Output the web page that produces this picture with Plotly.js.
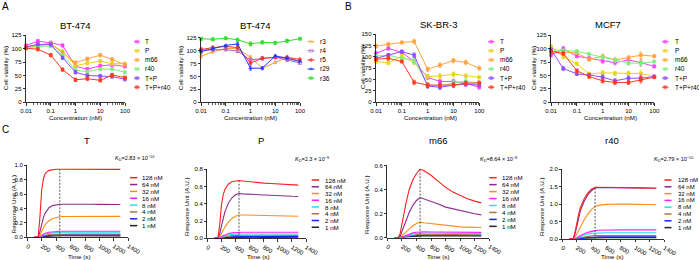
<!DOCTYPE html>
<html>
<head>
<meta charset="utf-8">
<script src="https://cdn.plot.ly/plotly-3.0.1.min.js"></script>
<style>
  html, body { margin: 0; padding: 0; background: #fff; }
  #chart { width: 699px; height: 260px; }
</style>
</head>
<body>
<div id="chart"></div>
<script>
const W = 699, H = 260;
const FONT = 'Arial, "Liberation Sans", sans-serif';

// ---------- cell viability data ----------
const conc = [0.01, 0.03, 0.1, 0.3, 1, 3, 10, 30, 100];
const comboNames = ['T', 'P', 'm66', 'r40', 'T+P', 'T+P+r40'];
const singleNames = ['r3', 'r4', 'r5', 'r29', 'r36'];

// BT-474, antibodies and combinations
const bt474_T      = [106, 114, 111, 106, 67, 62, 68, 70, 67];
const bt474_P      = [103, 105, 108, 95, 68, 73, 77, 72, 72];
const bt474_m66    = [104, 107, 110, 92, 74, 81, 88, 80, 70];
const bt474_r40    = [102, 103, 105, 88, 60, 57, 62, 62, 56];
const bt474_TP     = [103, 108, 108, 83, 56, 50, 49, 48, 43];
const bt474_TPr40  = [101, 99, 88, 61, 42, 44, 41, 51, 46];
const bt474_err    = [3, 3, 3, 3, 3, 3, 3, 3, 3];

// BT-474, single clones
const bt474_r3  = [89, 98, 104, 104, 87, 66, 77, 87, 79];
const bt474_r4  = [101, 102, 102, 99, 82, 85, 87, 82, 76];
const bt474_r5  = [102, 106, 108, 106, 76, 85, 87, 87, 83];
const bt474_r29 = [98, 104, 110, 113, 66, 66, 90, 85, 79];
const bt474_r36 = [123, 122, 124, 121, 113, 116, 115, 119, 123];
const single_err = [4, 3, 2, 3, 4, 3, 2, 3, 3];

// SK-BR-3
const skbr3_T     = [108, 119, 110, 90, 55, 46, 46, 42, 33];
const skbr3_P     = [90, 87, 102, 88, 57, 58, 62, 58, 55];
const skbr3_m66   = [124, 128, 132, 134, 73, 82, 92, 88, 75];
const skbr3_r40   = [102, 104, 97, 93, 38, 36, 43, 46, 42];
const skbr3_TP    = [97, 104, 112, 104, 36, 33, 38, 40, 38];
const skbr3_TPr40 = [95, 97, 90, 44, 38, 38, 38, 42, 43];
const skbr3_err   = [4, 4, 3, 5, 5, 5, 5, 5, 5];

// MCF7
const mcf7_T     = [88, 100, 86, 82, 77, 74, 79, 74, 67];
const mcf7_P     = [104, 85, 72, 53, 55, 54, 54, 54, 48];
const mcf7_m66   = [95, 93, 92, 80, 86, 79, 83, 88, 86];
const mcf7_r40   = [98, 96, 95, 90, 84, 78, 73, 73, 76];
const mcf7_TP    = [98, 63, 53, 51, 47, 40, 45, 45, 48];
const mcf7_TPr40 = [95, 91, 59, 48, 40, 37, 37, 42, 47];
const mcf7_err   = [4, 4, 3, 3, 4, 4, 4, 6, 3];

// ---------- binding kinetics (response vs time) ----------
const timeS = [100, 150, 175, 200, 225, 250, 300, 350, 400, 450, 500, 600, 700, 800, 900, 1000, 1100, 1200, 1290];
const concLabels = ['128 nM', '64 nM', '32 nM', '16 nM', '8 nM', '4 nM', '2 nM', '1 nM'];

const kin_T = [
  [0, 0, 0.28, 0.66, 0.82, 0.89, 0.93, 0.94, 0.945, 0.945, 0.945, 0.95, 0.95, 0.947, 0.946, 0.946, 0.945, 0.945, 0.944],
  [0, 0, 0.08, 0.2, 0.28, 0.34, 0.41, 0.44, 0.455, 0.46, 0.46, 0.462, 0.46, 0.458, 0.458, 0.457, 0.456, 0.455, 0.455],
  [0, 0, 0.03, 0.09, 0.14, 0.18, 0.23, 0.26, 0.275, 0.285, 0.288, 0.29, 0.29, 0.289, 0.29, 0.29, 0.291, 0.292, 0.29],
  [0, 0, 0.01, 0.03, 0.045, 0.055, 0.07, 0.078, 0.082, 0.085, 0.085, 0.086, 0.085, 0.084, 0.085, 0.085, 0.086, 0.085, 0.084],
  [0, 0, 0.008, 0.022, 0.035, 0.045, 0.058, 0.065, 0.068, 0.07, 0.07, 0.071, 0.07, 0.07, 0.071, 0.07, 0.07, 0.071, 0.07],
  [0, 0, 0.005, 0.014, 0.022, 0.03, 0.038, 0.042, 0.044, 0.045, 0.045, 0.046, 0.045, 0.045, 0.044, 0.045, 0.045, 0.044, 0.045],
  [0, 0, 0.003, 0.01, 0.016, 0.021, 0.027, 0.031, 0.033, 0.034, 0.034, 0.035, 0.034, 0.034, 0.035, 0.034, 0.034, 0.034, 0.033],
  [0, 0, 0.002, 0.006, 0.01, 0.013, 0.017, 0.019, 0.02, 0.021, 0.021, 0.021, 0.02, 0.021, 0.02, 0.021, 0.02, 0.021, 0.02]
];
const kin_P = [
  [0, 0, 0.15, 0.38, 0.5, 0.57, 0.63, 0.655, 0.665, 0.67, 0.665, 0.655, 0.648, 0.64, 0.635, 0.632, 0.628, 0.622, 0.617],
  [0, 0, 0.05, 0.15, 0.24, 0.31, 0.41, 0.47, 0.505, 0.52, 0.515, 0.51, 0.505, 0.5, 0.497, 0.494, 0.49, 0.487, 0.485],
  [0, 0, 0.02, 0.06, 0.1, 0.13, 0.19, 0.23, 0.255, 0.27, 0.27, 0.268, 0.265, 0.263, 0.262, 0.26, 0.258, 0.257, 0.255],
  [0, 0, 0.005, 0.02, 0.03, 0.04, 0.055, 0.063, 0.067, 0.07, 0.07, 0.07, 0.069, 0.068, 0.069, 0.068, 0.07, 0.071, 0.07],
  [0, 0, 0.004, 0.014, 0.022, 0.029, 0.039, 0.045, 0.048, 0.05, 0.05, 0.05, 0.049, 0.049, 0.05, 0.049, 0.05, 0.05, 0.05],
  [0, 0, 0.003, 0.01, 0.016, 0.021, 0.027, 0.031, 0.034, 0.035, 0.035, 0.035, 0.034, 0.034, 0.035, 0.034, 0.034, 0.035, 0.034],
  [0, 0, 0.002, 0.006, 0.01, 0.013, 0.016, 0.018, 0.019, 0.02, 0.02, 0.02, 0.019, 0.02, 0.019, 0.02, 0.02, 0.019, 0.02],
  [0, 0, 0.001, 0.004, 0.006, 0.008, 0.01, 0.011, 0.012, 0.012, 0.012, 0.012, 0.012, 0.011, 0.012, 0.012, 0.011, 0.012, 0.012]
];
const kin_m66 = [
  [0, 0, 0.03, 0.12, 0.2, 0.27, 0.4, 0.48, 0.535, 0.57, 0.56, 0.52, 0.47, 0.42, 0.38, 0.35, 0.325, 0.305, 0.29],
  [0, 0, 0.01, 0.05, 0.09, 0.13, 0.21, 0.27, 0.31, 0.335, 0.325, 0.3, 0.28, 0.255, 0.24, 0.225, 0.21, 0.2, 0.19],
  [0, 0, 0, 0.015, 0.03, 0.045, 0.075, 0.1, 0.118, 0.13, 0.125, 0.118, 0.11, 0.1, 0.095, 0.09, 0.088, 0.086, 0.085],
  [0, 0, 0, 0.006, 0.012, 0.018, 0.03, 0.04, 0.046, 0.05, 0.049, 0.048, 0.047, 0.046, 0.045, 0.045, 0.044, 0.045, 0.044],
  [0, 0, 0, 0.005, 0.01, 0.015, 0.024, 0.031, 0.036, 0.04, 0.039, 0.038, 0.037, 0.036, 0.036, 0.035, 0.035, 0.035, 0.034],
  [0, 0, 0, 0.004, 0.008, 0.011, 0.018, 0.023, 0.027, 0.03, 0.029, 0.028, 0.028, 0.027, 0.026, 0.026, 0.025, 0.025, 0.025],
  [0, 0, 0, 0.003, 0.005, 0.008, 0.012, 0.016, 0.018, 0.02, 0.02, 0.02, 0.019, 0.019, 0.019, 0.02, 0.019, 0.02, 0.02],
  [0, 0, 0, 0.002, 0.004, 0.006, 0.009, 0.012, 0.014, 0.015, 0.015, 0.015, 0.014, 0.015, 0.014, 0.015, 0.015, 0.014, 0.015]
];
const kin_r40 = [
  [0, 0, 0.2, 0.48, 0.72, 0.9, 1.15, 1.31, 1.42, 1.48, 1.48, 1.475, 1.47, 1.465, 1.465, 1.46, 1.46, 1.455, 1.45],
  [0, 0, 0.15, 0.4, 0.63, 0.82, 1.08, 1.26, 1.38, 1.46, 1.47, 1.47, 1.465, 1.46, 1.46, 1.455, 1.455, 1.45, 1.45],
  [0, 0, 0.05, 0.15, 0.26, 0.36, 0.55, 0.71, 0.84, 0.93, 0.96, 0.99, 1.0, 1.0, 0.995, 0.99, 0.99, 0.985, 0.98],
  [0, 0, 0.01, 0.04, 0.07, 0.1, 0.15, 0.19, 0.22, 0.24, 0.25, 0.26, 0.26, 0.26, 0.26, 0.26, 0.26, 0.26, 0.26],
  [0, 0, 0.01, 0.03, 0.05, 0.07, 0.11, 0.14, 0.16, 0.17, 0.175, 0.18, 0.18, 0.18, 0.18, 0.18, 0.18, 0.18, 0.18],
  [0, 0, 0.005, 0.015, 0.03, 0.04, 0.06, 0.075, 0.088, 0.095, 0.1, 0.1, 0.1, 0.1, 0.1, 0.1, 0.1, 0.1, 0.1],
  [0, 0, 0.003, 0.01, 0.018, 0.025, 0.037, 0.046, 0.053, 0.058, 0.06, 0.06, 0.06, 0.06, 0.06, 0.06, 0.06, 0.06, 0.06],
  [0, 0, 0.002, 0.007, 0.012, 0.017, 0.025, 0.031, 0.035, 0.038, 0.04, 0.04, 0.04, 0.04, 0.04, 0.04, 0.04, 0.04, 0.04]
];
const dissocStart = 450;

// ---------- styles ----------
const comboColors  = ['#ff3dff', '#e6d51c', '#ffa23c', '#7df07d', '#8b4dff', '#ff3a1e'];
const comboSymbols = ['square', 'square', 'square', 'square', 'square', 'square'];
const singleColors  = ['#f5a030', '#b45cc4', '#ff3030', '#1f3cff', '#2fe02f'];
const singleSymbols = ['circle-open', 'square-open', 'circle', 'triangle-up', 'square'];
const kinColors = ['#ff1e1e', '#8e2a8e', '#ff8c1a', '#ff1eff', '#1ee3e3', '#a8743e', '#1e1eff', '#222222'];

// panel rectangles in pixels: left, right, top, bottom
const boxes = [
  [26, 125, 35.3, 102.3],
  [201, 300, 37.7, 102.3],
  [376, 479.3, 34.3, 102.3],
  [551, 654.3, 35.3, 102.3],
  [27.3, 128.3, 165.3, 237.3],
  [207.3, 306, 169.3, 238.3],
  [387.3, 489.3, 165.7, 237.7],
  [562.3, 664.3, 169, 239]
];
const px = v => v / W;
const py = v => 1 - v / H;

const tickFont = {family: FONT, size: 6, color: '#000'};
function baseAxis() {
  return {
    showline: true, linecolor: '#000', linewidth: 0.8,
    ticks: 'outside', ticklen: 2.5, tickwidth: 0.8, tickcolor: '#000',
    showgrid: false, zeroline: false, tickfont: tickFont, fixedrange: true
  };
}
const minorLog = [];
for (let e = -2; e < 2; e++) for (let m = 2; m <= 9; m++) minorLog.push(m * Math.pow(10, e));

const layout = {
  width: W, height: H, margin: {l: 0, r: 0, t: 0, b: 0},
  paper_bgcolor: '#fff', plot_bgcolor: 'rgba(0,0,0,0)',
  showlegend: false, font: {family: FONT, color: '#000'},
  annotations: [], shapes: []
};

const yRanges = [[0, 125, 25, null], [0, 125, 25, null], [0, 150, 25, null], [0, 125, 25, null],
                 [0, 1, 0.2, '.1f'], [0, 0.8, 0.2, '.1f'], [0, 0.6, 0.2, '.1f'], [0, 2, 0.5, '.1f']];

boxes.forEach((b, i) => {
  const n = i + 1;
  const xa = baseAxis(), ya = baseAxis();
  xa.domain = [px(b[0]), px(b[1])];
  ya.domain = [py(b[3]), py(b[2])];
  xa.anchor = 'y' + (n === 1 ? '' : n);
  ya.anchor = 'x' + (n === 1 ? '' : n);
  if (i < 4) {
    xa.type = 'log';
    xa.range = [-2, 2];
    xa.tickmode = 'array';
    xa.tickvals = [0.01, 0.1, 1, 10, 100];
    xa.ticktext = ['0.01', '0.1', '1', '10', '100'];
    xa.minor = {tickmode: 'array', tickvals: minorLog, ticks: 'outside', ticklen: 1.6, tickwidth: 0.6, tickcolor: '#000', showgrid: false};
  } else {
    xa.range = [0, 1400];
    xa.dtick = 200;
    xa.tick0 = 0;
  }
  const r = yRanges[i];
  ya.range = [r[0], r[1]];
  ya.dtick = r[2];
  ya.tick0 = 0;
  if (r[3]) ya.tickformat = r[3];
  layout['xaxis' + (n === 1 ? '' : n)] = xa;
  layout['yaxis' + (n === 1 ? '' : n)] = ya;
});
// pixel-frame overlay used for legend keys
layout.xaxis9 = {domain: [0, 1], range: [0, W], visible: false, fixedrange: true, anchor: 'y9'};
layout.yaxis9 = {domain: [0, 1], range: [H, 0], visible: false, fixedrange: true, anchor: 'x9'};

const traces = [];
function axRef(i) { const n = i + 1; return n === 1 ? ['x', 'y'] : ['x' + n, 'y' + n]; }

function viabilityPanel(i, series, names, colors, symbols, errs) {
  const [xr, yr] = axRef(i);
  series.forEach((ys, k) => {
    traces.push({
      type: 'scatter', mode: 'lines+markers', x: conc, y: ys, name: names[k],
      xaxis: xr, yaxis: yr, cliponaxis: false,
      line: {color: colors[k], width: 1},
      marker: {color: colors[k], symbol: symbols[k], size: 3, line: {color: colors[k], width: 0.6}},
      error_y: {type: 'data', array: errs, color: colors[k], thickness: 0.7, width: 1.3}
    });
  });
}
viabilityPanel(0, [bt474_T, bt474_P, bt474_m66, bt474_r40, bt474_TP, bt474_TPr40], comboNames, comboColors, comboSymbols, bt474_err);
viabilityPanel(1, [bt474_r3, bt474_r4, bt474_r5, bt474_r29, bt474_r36], singleNames, singleColors, singleSymbols, single_err);
viabilityPanel(2, [skbr3_T, skbr3_P, skbr3_m66, skbr3_r40, skbr3_TP, skbr3_TPr40], comboNames, comboColors, comboSymbols, skbr3_err);
viabilityPanel(3, [mcf7_T, mcf7_P, mcf7_m66, mcf7_r40, mcf7_TP, mcf7_TPr40], comboNames, comboColors, comboSymbols, mcf7_err);

function kineticPanel(i, sets) {
  const [xr, yr] = axRef(i);
  for (let k = sets.length - 1; k >= 0; k--) {
    traces.push({
      type: 'scatter', mode: 'lines', x: timeS, y: sets[k], name: concLabels[k],
      xaxis: xr, yaxis: yr, cliponaxis: false,
      line: {color: kinColors[k], width: 1.1}
    });
  }
  // dashed marker at the start of dissociation, up to the highest curve
  const idx = timeS.indexOf(dissocStart);
  const top = Math.max(...sets.map(s => s[idx]));
  traces.push({
    type: 'scatter', mode: 'lines', x: [dissocStart, dissocStart], y: [0, top],
    xaxis: xr, yaxis: yr, line: {color: '#444', width: 0.9, dash: '2px,1.5px'}, hoverinfo: 'skip'
  });
}
kineticPanel(4, kin_T);
kineticPanel(5, kin_P);
kineticPanel(6, kin_m66);
kineticPanel(7, kin_r40);

// ---------- text ----------
function text(x, y, s, size, opts) {
  layout.annotations.push(Object.assign({
    xref: 'paper', yref: 'paper', x: px(x), y: py(y), text: s, showarrow: false,
    xanchor: 'center', yanchor: 'middle', font: {family: FONT, size: size, color: '#000'}
  }, opts || {}));
}
text(5, 6, 'A', 10);
text(348, 6, 'B', 10);
text(5, 129, 'C', 10);

const panelTitles = [[75, 26, 'BT-474'], [255, 26, 'BT-474'], [438, 25, 'SK-BR-3'], [608, 25, 'MCF7'],
                     [87, 140, 'T'], [261, 140, 'P'], [438, 140, 'm66'], [612, 140, 'r40']];
panelTitles.forEach(t => text(t[0], t[1], t[2], 9.5));

[[75, 118], [250, 118], [430, 118], [610, 118]].forEach(p => text(p[0], p[1], 'Concentration (nM)', 6.2));
[[6, 68], [181, 68], [362, 67], [534, 68]].forEach(p => text(p[0], p[1], 'Cell viability (%)', 6.2, {textangle: -90}));
[[79, 256], [258, 256], [438, 256], [612, 256]].forEach(p => text(p[0], p[1], 'Time (s)', 6.2));
[[12.5, 205], [186, 207], [366, 205], [541, 207]].forEach(p => text(p[0], p[1], 'Response Unit (A.U.)', 6.2, {textangle: -90}));

const kdText = [[134, 158, '2.83 × 10<sup>−10</sup>'], [312, 159, '2.3 × 10<sup>−9</sup>'],
                [498, 159, '8.64 × 10<sup>−8</sup>'], [673, 159, '2.79 × 10<sup>−10</sup>']];
kdText.forEach(k => text(k[0], k[1], '<i>K</i><sub>D</sub>=' + k[2], 5.5));

// ---------- legends ----------
function legendKeys(x0, x1, tx, y0, step, names, colors, symbols, lineW, size) {
  names.forEach((nm, k) => {
    const y = y0 + k * step;
    const tr = {
      type: 'scatter', mode: 'lines',
      x: [x0, (x0 + x1) / 2, x1], y: [y, y, y], xaxis: 'x9', yaxis: 'y9', cliponaxis: false,
      line: {color: colors[k], width: lineW}, hoverinfo: 'skip'
    };
    if (symbols) {
      tr.mode = 'lines+markers';
      tr.marker = {color: colors[k], symbol: symbols[k], size: [0, 3, 0], line: {color: colors[k], width: 0.6}};
    }
    traces.push(tr);
    text(tx, y, nm, size, {xanchor: 'left'});
  });
}
legendKeys(134, 140, 143, 41.7, 9.1, comboNames, comboColors, comboSymbols, 1, 6.5);
legendKeys(307.5, 314.5, 318, 41.7, 9.1, singleNames, singleColors, singleSymbols, 1, 6.5);
legendKeys(488, 494.5, 498, 41.7, 9.1, comboNames, comboColors, comboSymbols, 1, 6.5);
legendKeys(662, 668.5, 673, 41.7, 9.1, comboNames, comboColors, comboSymbols, 1, 6.5);
legendKeys(130, 137.3, 140, 177.7, 6.85, concLabels, kinColors, null, 1.5, 6.2);
legendKeys(311.7, 319, 323, 180, 6.75, concLabels, kinColors, null, 1.5, 6.2);
legendKeys(489.3, 496.7, 500, 177.7, 6.95, concLabels, kinColors, null, 1.5, 6.2);
legendKeys(664.5, 671.5, 675.5, 180, 6.8, concLabels, kinColors, null, 1.5, 6.0);

Plotly.newPlot('chart', traces, layout, {staticPlot: true, displayModeBar: false});
</script>
</body>
</html>
